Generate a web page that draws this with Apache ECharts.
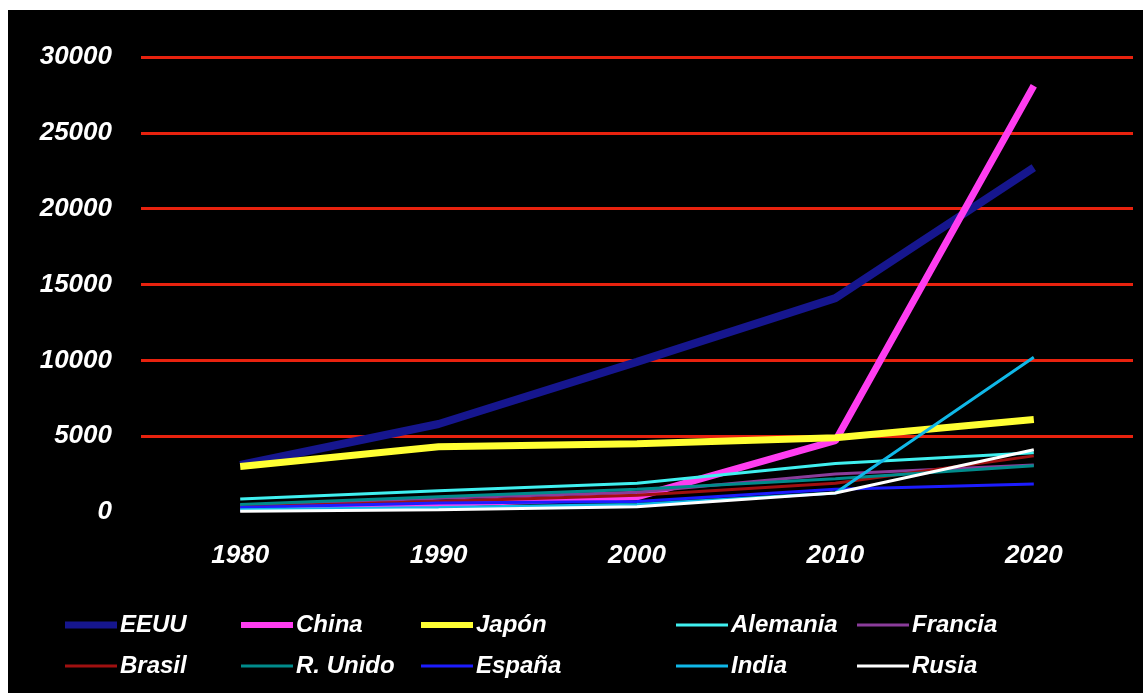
<!DOCTYPE html>
<html>
<head>
<meta charset="utf-8">
<script src="https://cdn.jsdelivr.net/npm/echarts@6/dist/echarts.min.js"></script>
<style>
  html, body { margin: 0; padding: 0; background: #ffffff; }
  #chart { position: absolute; left: 8px; top: 10px; width: 1135px; height: 683px; background: #000; }
</style>
</head>
<body>
<div id="chart"></div>
<script>
// years on the x axis
const years = ['1980', '1990', '2000', '2010', '2020'];

// values
const eeuu = [3100, 5800, 9900, 14100, 22700];
const china = [250, 550, 1000, 4700, 28100];
const japon = [3000, 4300, 4500, 4900, 6100];
const alemania = [850, 1400, 1900, 3200, 3900];
const francia = [450, 900, 1300, 2500, 3100];
const brasil = [350, 700, 1100, 1900, 3700];
const rUnido = [500, 1000, 1500, 2200, 3050];
const espana = [300, 600, 700, 1500, 1850];
const india = [150, 300, 500, 1250, 10200];
const rusia = [50, 150, 350, 1250, 4100];

const countries = [
  { name: 'EEUU', data: eeuu, color: '#16168e', width: 8 },
  { name: 'China', data: china, color: '#ff3df0', width: 7 },
  { name: 'Japón', data: japon, color: '#ffff33', width: 7 },
  { name: 'Alemania', data: alemania, color: '#40f0f0', width: 3 },
  { name: 'Francia', data: francia, color: '#8a3c9a', width: 3 },
  { name: 'Brasil', data: brasil, color: '#a01010', width: 3 },
  { name: 'R. Unido', data: rUnido, color: '#008b8b', width: 3 },
  { name: 'España', data: espana, color: '#1c1cff', width: 3 },
  { name: 'India', data: india, color: '#10b8e8', width: 3 },
  { name: 'Rusia', data: rusia, color: '#ffffff', width: 3 },
];

const font = { color: '#ffffff', fontFamily: 'Liberation Sans, Arial, sans-serif', fontWeight: 'bold', fontStyle: 'italic' };

// legend slots: two rows of five
const legendLeft = [52, 228, 408, 663, 844];
const legendTop = [598, 639];

const legends = countries.map((c, i) => ({
  data: [{ name: c.name, icon: 'rect' }],
  left: legendLeft[i % 5],
  top: legendTop[Math.floor(i / 5)],
  itemWidth: 52,
  itemHeight: Math.max(c.width - 1, 3),
  itemGap: 0,
  textStyle: { ...font, fontSize: 24, lineHeight: 24, padding: [0, 0, 0, -2] },
  selectedMode: false,
}));

const gridRed = '#e8220e';

const chart = echarts.init(document.getElementById('chart'));
chart.setOption({
  animation: false,
  backgroundColor: '#000000',
  grid: { left: 133, right: 10, top: 47, bottom: 181 },
  legend: legends,
  xAxis: {
    type: 'category',
    data: years,
    boundaryGap: true,
    axisLine: { show: false },
    axisTick: { show: false },
    axisLabel: { ...font, fontSize: 26, margin: 31 },
  },
  yAxis: {
    type: 'value',
    min: 0,
    max: 30000,
    interval: 5000,
    axisLine: { show: false },
    axisTick: { show: false },
    axisLabel: { ...font, fontSize: 26, margin: 29, formatter: v => String(v) },
    splitLine: {
      show: true,
      lineStyle: {
        width: 3,
        color: ['rgba(0,0,0,0)', gridRed, gridRed, gridRed, gridRed, gridRed, gridRed],
      },
    },
  },
  series: countries.map(c => ({
    name: c.name,
    type: 'line',
    data: c.data,
    symbol: 'none',
    color: c.color,
    lineStyle: { color: c.color, width: c.width },
  })),
});
</script>
</body>
</html>
